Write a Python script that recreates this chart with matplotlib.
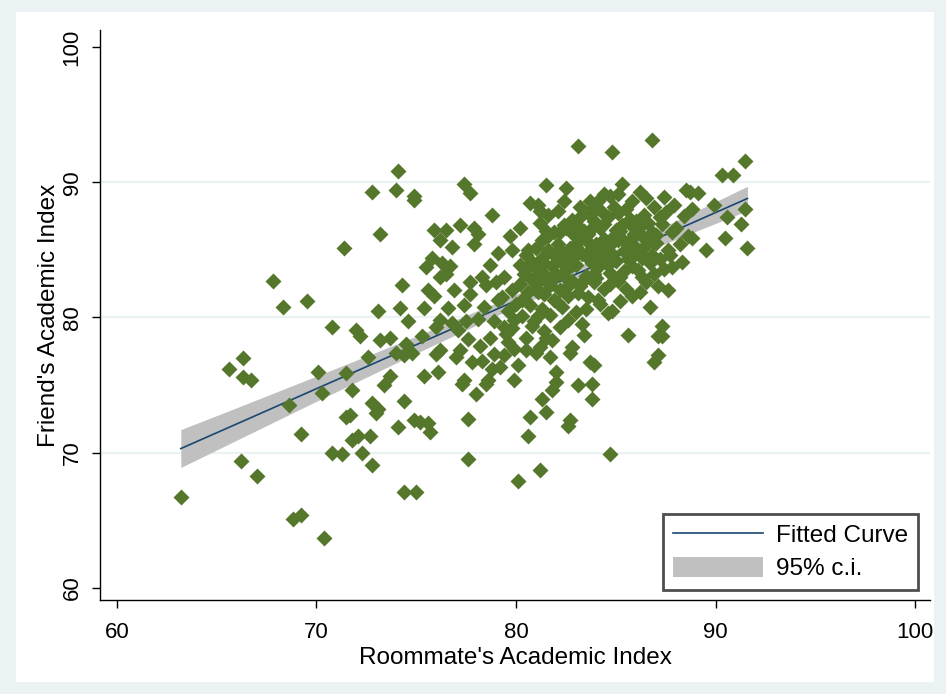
import numpy as np
import matplotlib
matplotlib.use('Agg')
import matplotlib.pyplot as plt
from matplotlib.patches import Rectangle, Patch
from matplotlib.lines import Line2D

# scatter points (roommate index, friend index)
roommate = [63.2, 65.6, 66.3, 66.3, 66.7, 66.2, 67.0, 67.8, 68.3, 69.5, 68.6, 68.8, 69.2, 69.2,
            70.1, 70.3, 70.4, 70.8, 70.8, 71.3, 71.4, 71.5, 71.5, 71.7, 71.8, 72.0, 72.2, 71.8,
            72.1, 72.3, 72.6, 72.7, 72.8, 72.8, 73.1, 72.8, 73.0, 73.2, 73.2, 73.1, 73.4, 73.7,
            73.7, 74.0, 74.1, 74.0, 74.1, 74.2, 74.3, 74.4, 74.4, 74.4, 74.5, 74.6, 74.8, 74.9,
            74.9, 75.0, 74.9, 75.2, 75.4, 75.3, 75.4, 75.5, 75.6, 75.7, 75.6, 75.8, 75.9, 75.9,
            76.0, 76.2, 76.0, 76.1, 76.2, 76.2, 76.3, 76.2, 76.5, 76.5, 76.6, 76.7, 76.8, 76.8,
            76.9, 77.0, 77.1, 77.2, 77.2, 77.3, 77.4, 77.4, 77.4, 77.5, 77.6, 77.6, 77.6, 77.7,
            77.7, 77.7, 77.8, 77.9, 77.9, 78.1, 78.0, 78.1, 78.2, 78.3, 78.3, 78.5, 78.4, 78.6,
            78.5, 78.7, 78.7, 78.8, 78.9, 78.9, 79.1, 79.0, 79.1, 79.3, 79.2, 79.4, 79.5, 79.4,
            79.6, 79.6, 79.7, 79.8, 79.8, 79.9, 79.9, 80.1, 80.1, 80.2, 80.2, 80.3, 80.5, 80.6,
            80.6, 80.7, 80.8, 80.7, 80.9, 81.1, 81.2, 81.0, 81.2, 81.3, 81.3, 81.5, 81.5, 81.5,
            81.6, 81.7, 81.8, 81.9, 82.0, 82.1, 82.5, 82.5, 82.6, 82.7, 82.7, 82.8, 83.0, 83.1,
            83.1, 83.3, 83.4, 83.7, 83.8, 83.8, 83.9, 84.1, 84.4, 84.7, 84.8, 84.8, 85.1, 85.3,
            85.6, 86.4, 86.8, 86.9, 87.1, 87.1, 87.3, 87.3, 87.6, 87.8, 88.5, 88.8, 89.1, 89.5,
            89.9, 90.3, 90.9, 90.5, 90.6, 91.3, 91.5, 91.6, 91.5,
            # dense cluster
            80.2, 80.4, 80.6, 80.8, 80.9, 81.0, 80.5, 81.0, 80.7,
            81.1, 81.2, 81.3, 81.4, 81.5, 81.6, 81.7, 81.8, 81.9, 81.3, 81.6, 81.9, 81.2, 81.7,
            82.0, 82.1, 82.2, 82.3, 82.4, 82.5, 82.6, 82.7, 82.8, 82.9, 82.3, 82.8, 82.1, 82.6,
            82.4, 82.9,
            83.0, 83.1, 83.2, 83.3, 83.4, 83.5, 83.6, 83.7, 83.8, 83.9, 83.2, 83.5, 83.9, 83.0,
            83.6, 83.3, 83.8,
            84.0, 84.1, 84.2, 84.3, 84.4, 84.5, 84.6, 84.7, 84.8, 84.9, 84.2, 84.6, 84.9, 84.1,
            84.4, 84.7, 84.3,
            85.0, 85.1, 85.2, 85.3, 85.4, 85.5, 85.6, 85.7, 85.8, 85.9, 85.2, 85.5, 85.8, 85.1,
            85.9,
            86.0, 86.1, 86.2, 86.3, 86.4, 86.5, 86.6, 86.7, 86.8, 86.9, 86.2, 86.7, 86.5, 86.9,
            87.0, 87.2, 87.3, 87.4, 87.5, 87.6, 87.8, 87.9, 87.1, 87.7, 87.4,
            88.0, 88.2, 88.4, 88.6, 88.8, 88.3, 88.7,
            83.7, 84.7, 85.8, 86.2,
            79.8, 80.3, 80.0, 80.8, 81.1, 81.4, 81.8, 82.2, 80.5, 81.2, 79.4, 78.8, 79.9, 82.0,
            81.4, 81.8, 82.2, 82.6, 83.0, 83.4, 83.8, 84.2, 84.6, 85.0, 85.4, 85.8, 86.2, 86.6, 87.0,
            81.0, 81.5, 82.0, 82.4, 82.8, 83.2, 83.6, 84.0, 84.4, 84.8, 85.2, 85.6, 86.0, 86.4,
            86.8, 87.2,
            80.6, 81.1, 81.9, 82.5, 83.1, 83.5, 83.9, 84.3, 84.9, 85.3, 85.7, 86.3, 86.9, 82.2,
            83.7, 85.1]

friend = [66.7, 76.2, 77.0, 75.6, 75.4, 69.4, 68.3, 82.7, 80.8, 81.2, 73.5, 65.1, 65.4, 71.4,
          76.0, 74.4, 63.7, 79.3, 70.0, 69.9, 85.1, 75.9, 72.6, 72.8, 74.6, 79.1, 78.6, 70.9,
          71.2, 70.0, 77.1, 71.2, 69.1, 73.7, 73.2, 89.3, 72.9, 86.2, 78.3, 80.5, 75.0, 75.7,
          78.5, 89.4, 90.8, 77.4, 71.9, 80.7, 82.4, 77.2, 73.8, 67.1, 78.0, 79.7, 77.4, 89.0,
          88.7, 67.1, 72.4, 72.3, 80.7, 78.6, 75.7, 83.7, 72.2, 71.5, 82.0, 84.4, 81.6, 86.5,
          79.3, 79.8, 77.3, 76.0, 83.0, 77.6, 84.0, 85.7, 86.5, 83.2, 80.7, 83.8, 85.2, 79.6,
          82.0, 77.1, 79.1, 86.8, 77.6, 75.1, 75.4, 89.9, 80.9, 79.7, 78.4, 72.5, 69.5, 89.2,
          81.7, 82.6, 76.7, 85.4, 86.6, 86.2, 74.3, 79.9, 77.9, 76.8, 83.0, 82.4, 80.8, 75.4,
          75.1, 83.9, 78.5, 87.6, 79.7, 77.3, 84.8, 82.6, 81.3, 81.5, 76.3, 79.3, 78.8, 83.0,
          78.2, 80.5, 86.0, 85.0, 82.0, 79.8, 77.7, 67.9, 76.5, 83.9, 86.6, 81.3, 78.5, 71.2,
          85.0, 88.5, 82.8, 72.6, 79.7, 88.3, 87.9, 77.4, 68.7, 85.7, 74.0, 78.5, 89.8, 73.0,
          87.6, 77.1, 74.6, 86.3, 75.2, 81.1, 86.6, 89.6, 72.0, 72.4, 77.4, 77.8, 80.4, 75.0,
          92.7, 87.6, 78.7, 76.7, 75.1, 74.0, 76.5, 81.3, 89.1, 69.9, 80.5, 92.2, 89.1, 89.9,
          78.7, 85.9, 93.1, 76.7, 77.2, 78.6, 78.6, 79.4, 82.0, 83.7, 89.4, 85.9, 89.2, 85.0,
          88.3, 90.5, 90.5, 85.9, 87.4, 86.9, 91.6, 85.1, 88.0,
          # dense cluster
          82.5, 83.2, 81.9, 84.1, 83.0, 82.2, 84.6, 85.1, 80.9,
          83.6, 82.8, 84.4, 81.7, 83.1, 85.0, 82.4, 83.8, 81.3, 80.6, 86.0, 84.7, 87.0, 80.2,
          83.2, 85.4, 82.0, 84.0, 86.8, 83.5, 81.6, 85.1, 82.7, 84.5, 80.8, 87.2, 87.9, 79.8,
          88.6, 86.1,
          83.9, 85.6, 82.3, 84.7, 86.4, 83.1, 81.5, 85.0, 84.0, 87.1, 88.2, 80.6, 82.6, 86.9,
          86.2, 79.5, 88.0,
          85.4, 83.7, 86.6, 84.3, 82.1, 85.0, 87.4, 83.3, 84.7, 86.0, 81.0, 80.3, 88.2, 88.6,
          85.8, 82.5, 87.8,
          84.2, 85.7, 83.0, 86.8, 84.9, 82.1, 85.4, 87.3, 83.8, 86.2, 81.2, 88.0, 81.6, 87.7,
          84.6,
          85.1, 83.5, 86.7, 84.4, 87.6, 82.6, 85.7, 84.0, 86.3, 88.2, 81.9, 80.8, 88.8, 83.2,
          85.5, 84.3, 86.9, 83.6, 87.8, 85.0, 86.3, 88.3, 82.3, 84.6, 88.9,
          86.6, 85.4, 87.5, 86.0, 88.0, 84.1, 89.3,
          88.6, 89.0, 88.6, 89.3,
          79.2, 80.1, 81.0, 79.4, 80.1, 79.0, 78.3, 79.3, 77.6, 77.8, 77.2, 76.2, 75.4, 76.0,
          84.0, 83.0, 84.9, 82.3, 85.2, 82.8, 86.6, 84.6, 83.9, 86.5, 83.4, 85.9, 84.8, 87.0, 86.1,
          83.9, 86.4, 84.5, 83.1, 83.9, 86.0, 84.4, 82.9, 86.9, 85.5, 86.4, 84.3, 87.1, 85.2,
          84.6, 87.4,
          83.7, 81.9, 82.9, 84.3, 81.8, 85.7, 83.2, 85.1, 83.0, 85.8, 86.9, 83.0, 85.6, 86.3,
          87.6, 82.7]

# fitted line and 95% band
ci_x = [63.2, 66.0, 70.0, 75.0, 80.0, 85.0, 88.0, 91.6]
fit_y = [70.3, 72.12, 74.73, 77.98, 81.24, 84.49, 86.45, 88.8]
ci_lo = [68.9, 70.92, 73.80, 77.35, 80.79, 83.95, 85.77, 87.9]
ci_hi = [71.7, 73.32, 75.66, 78.61, 81.69, 85.03, 87.13, 89.7]

x_ticks = [60, 70, 80, 90, 100]
y_ticks = [60, 70, 80, 90, 100]

plt.rcParams['font.family'] = ['Liberation Sans', 'DejaVu Sans']

fig = plt.figure(figsize=(9.46, 6.94), dpi=100)
fig.patch.set_facecolor('#EAF2F3')
# white graph region inside the bluish-gray outer border
fig.patches.append(Rectangle((16 / 946, 12 / 694), 918 / 946, 670 / 694,
                             transform=fig.transFigure, facecolor='white',
                             edgecolor='none', zorder=-5))

ax = fig.add_axes([100 / 946, 94 / 694, 830 / 946, 570 / 694])
ax.set_zorder(1)
ax.set_facecolor('white')
ax.set_xlim(59.15, 100.75)
ax.set_ylim(59.1, 101.26)

for yv in [70, 80, 90]:
    ax.axhline(yv, color='#EAF2F3', lw=1.6, zorder=0)

ax.fill_between(ci_x, ci_lo, ci_hi, color='#C0C0C0', lw=0, zorder=1)
ax.plot(ci_x, fit_y, color='#1A476F', lw=1.2, zorder=2)
ax.plot(roommate, friend, 'D', color='#55772B', ms=7.8, mec='none', zorder=3)

for s in ['top', 'right']:
    ax.spines[s].set_visible(False)
for s in ['left', 'bottom']:
    ax.spines[s].set_color('black')
    ax.spines[s].set_linewidth(1.0)

ax.set_xticks(x_ticks)
ax.set_yticks(y_ticks)
ax.tick_params(axis='both', length=6, width=1, colors='black', labelsize=16)
ax.tick_params(axis='x', pad=10)
ax.tick_params(axis='y', pad=6.5)
for lab in ax.get_yticklabels():
    lab.set_rotation(90)
    lab.set_va('center')
ax.set_xlabel("Roommate's Academic Index", fontsize=17.5, labelpad=2.5)
ax.set_ylabel("Friend's Academic Index", fontsize=17.5, labelpad=1.5)

handles = [Line2D([0], [0], color='#1A476F', lw=1.2),
           Patch(facecolor='#C0C0C0', edgecolor='none')]
leg = ax.legend(handles, ['Fitted Curve', '95% c.i.'], loc='lower right',
                bbox_to_anchor=(0.9855, 0.0175), fontsize=17.5,
                frameon=True, fancybox=False, handlelength=3.7, handleheight=0.9,
                borderpad=0.4, labelspacing=0.4, handletextpad=0.55, borderaxespad=0)
leg.get_frame().set_edgecolor('#222222')
leg.get_frame().set_linewidth(2)

fig.savefig('out.png', dpi=100, facecolor=fig.get_facecolor())
